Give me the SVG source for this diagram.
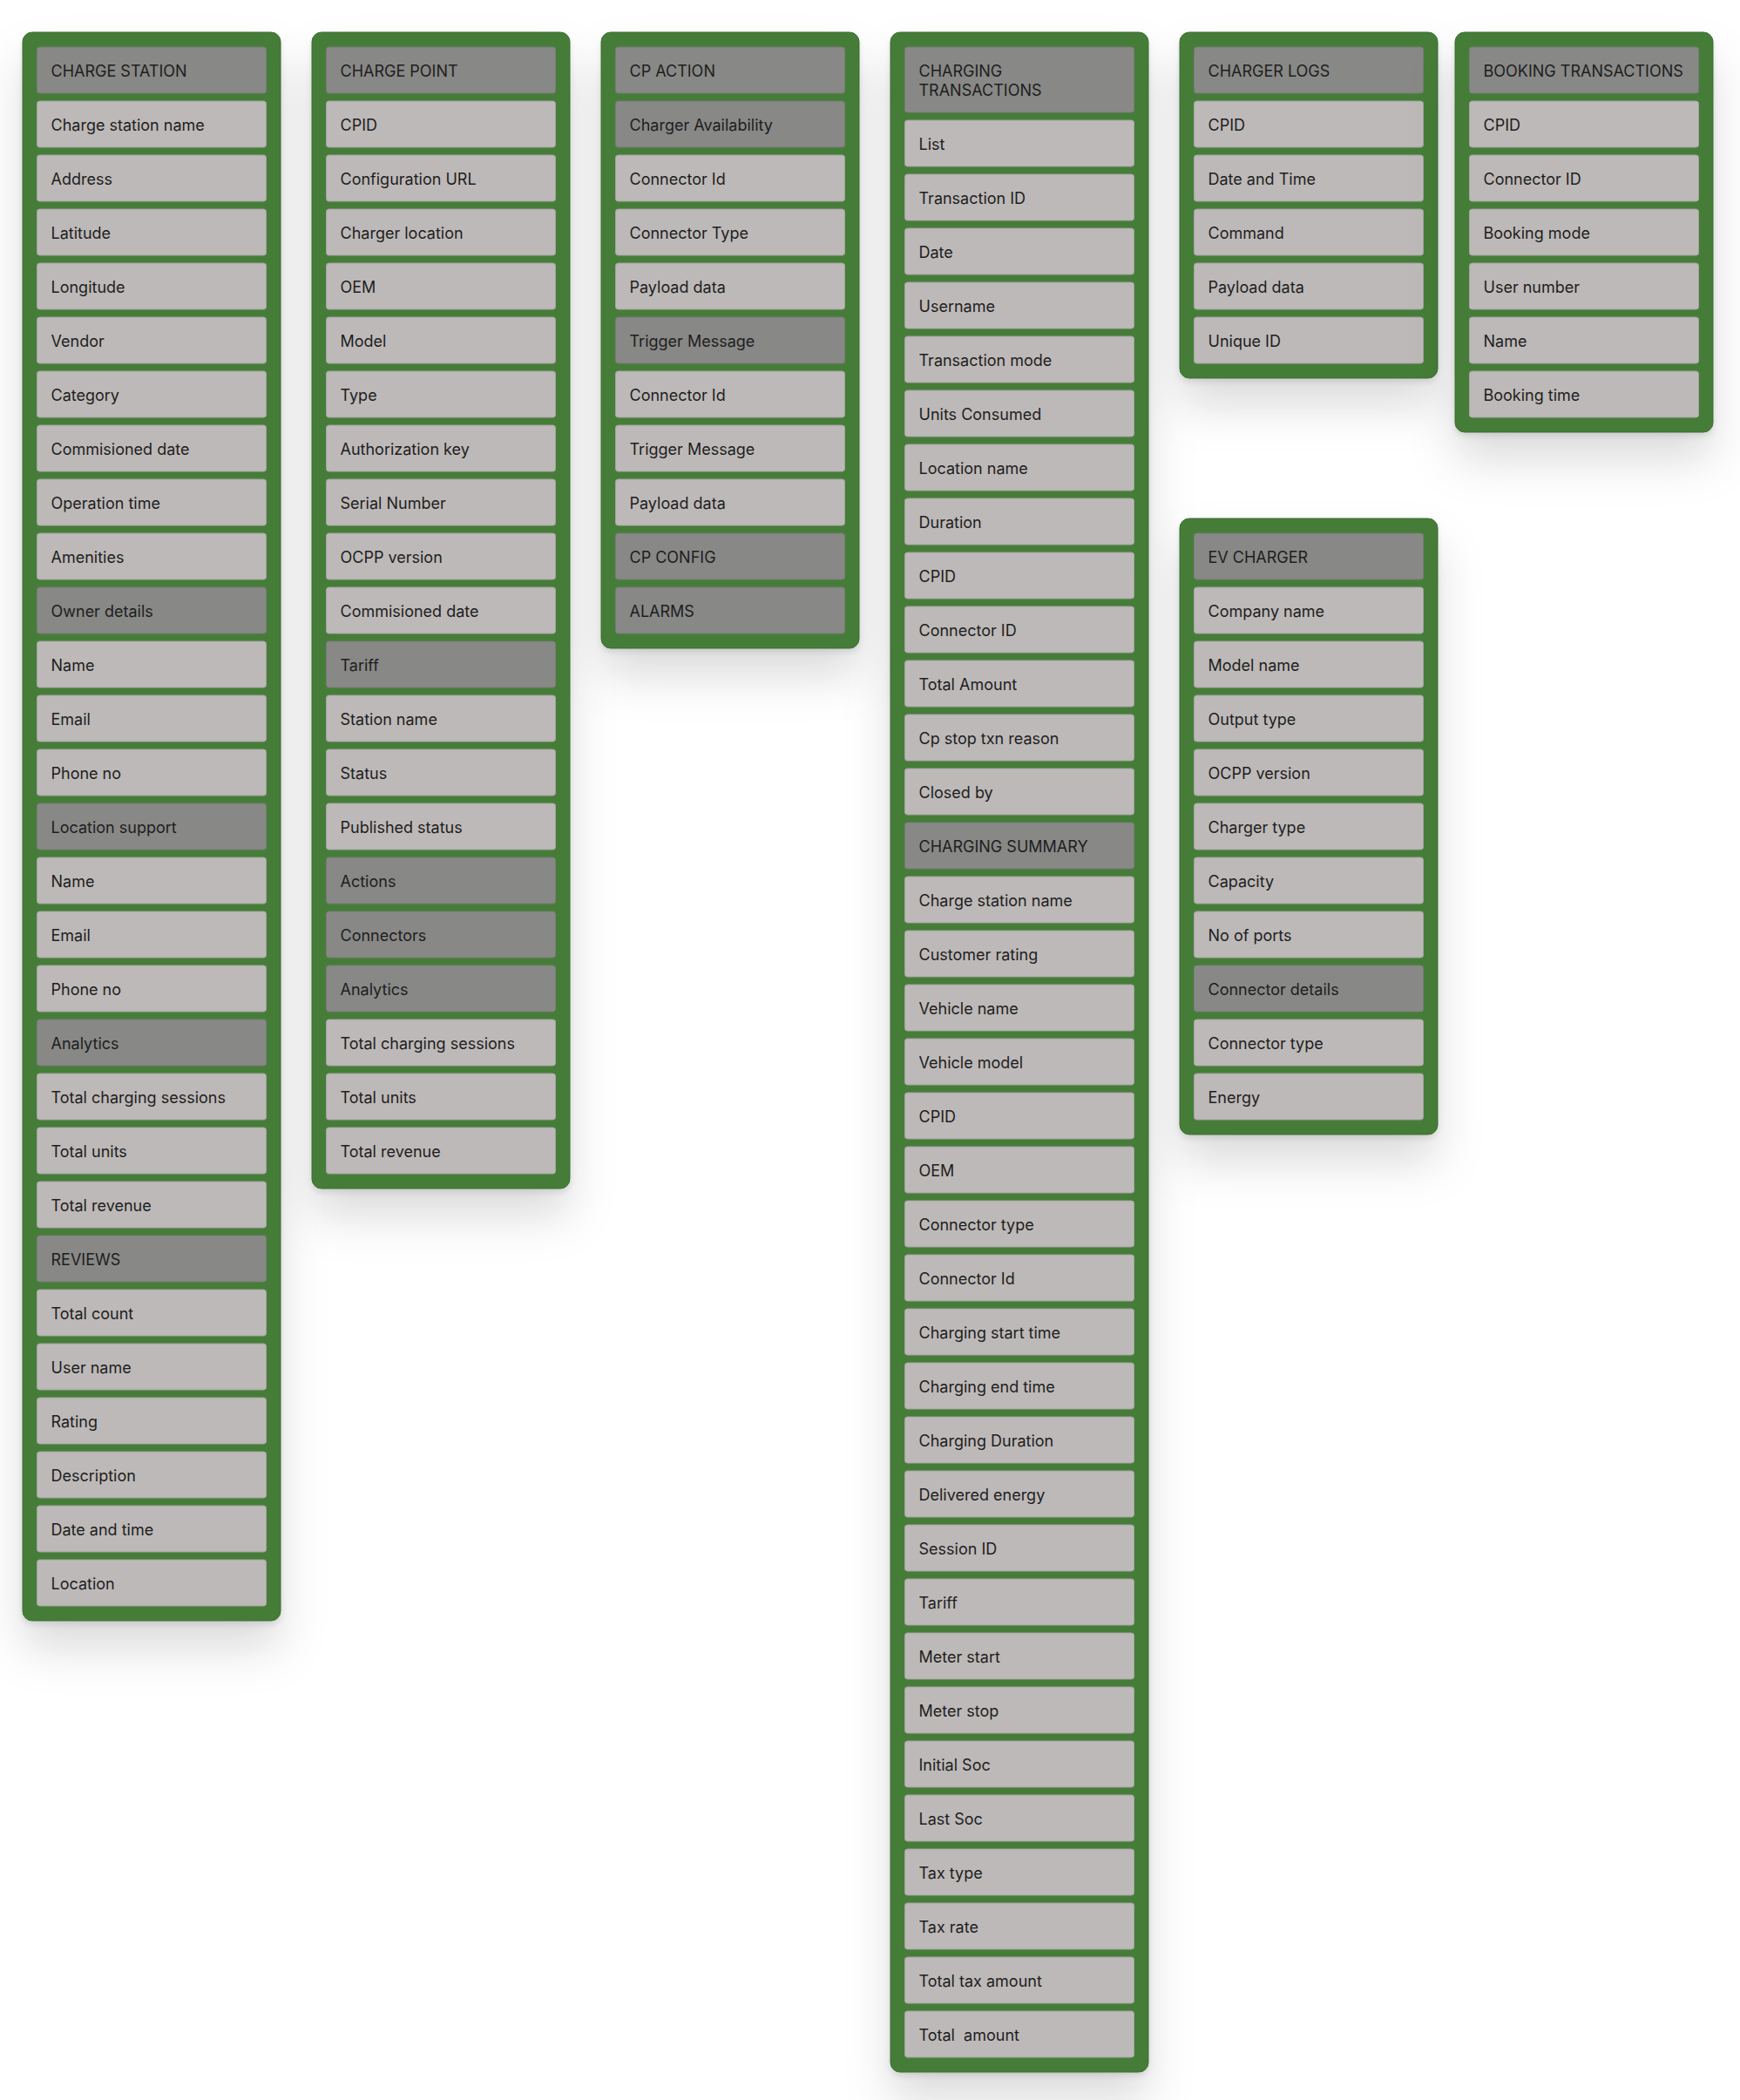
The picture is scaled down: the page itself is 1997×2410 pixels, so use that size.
<svg xmlns="http://www.w3.org/2000/svg" width="1997" height="2410" viewBox="0 0 1997 2410">
<defs>
<filter id="sh" x="-30%" y="-10%" width="160%" height="200%">
<feDropShadow dx="0" dy="32" stdDeviation="26" flood-color="#000" flood-opacity="0.13"/>
<feDropShadow dx="0" dy="4" stdDeviation="3" flood-color="#000" flood-opacity="0.10"/>
</filter>
<style>
.panel{fill:#457d38;stroke:#3d6f32;stroke-width:1;filter:url(#sh)}
.it{fill:#bdb9b8;stroke:#a5a2a1;stroke-width:1}
.hd{fill:#888886;stroke:#7a7a78;stroke-width:1}
text{font-family:Inter,"Noto Sans","Liberation Sans",sans-serif;font-size:18px;fill:#1e1e1e;white-space:pre}
</style>
</defs>
<rect width="1997" height="2410" fill="#ffffff"/>

<g id="charge-station">
<rect class="panel" x="26" y="37" width="296" height="1823" rx="11"/>
<rect class="hd" x="42.5" y="54" width="263" height="53" rx="3"/><text x="58.5" y="88">CHARGE STATION</text>
<rect class="it" x="42.5" y="116" width="263" height="53" rx="3"/><text x="58.5" y="150">Charge station name</text>
<rect class="it" x="42.5" y="178" width="263" height="53" rx="3"/><text x="58.5" y="212">Address</text>
<rect class="it" x="42.5" y="240" width="263" height="53" rx="3"/><text x="58.5" y="274">Latitude</text>
<rect class="it" x="42.5" y="302" width="263" height="53" rx="3"/><text x="58.5" y="336">Longitude</text>
<rect class="it" x="42.5" y="364" width="263" height="53" rx="3"/><text x="58.5" y="398">Vendor</text>
<rect class="it" x="42.5" y="426" width="263" height="53" rx="3"/><text x="58.5" y="460">Category</text>
<rect class="it" x="42.5" y="488" width="263" height="53" rx="3"/><text x="58.5" y="522">Commisioned date</text>
<rect class="it" x="42.5" y="550" width="263" height="53" rx="3"/><text x="58.5" y="584">Operation time</text>
<rect class="it" x="42.5" y="612" width="263" height="53" rx="3"/><text x="58.5" y="646">Amenities</text>
<rect class="hd" x="42.5" y="674" width="263" height="53" rx="3"/><text x="58.5" y="708">Owner details</text>
<rect class="it" x="42.5" y="736" width="263" height="53" rx="3"/><text x="58.5" y="770">Name</text>
<rect class="it" x="42.5" y="798" width="263" height="53" rx="3"/><text x="58.5" y="832">Email</text>
<rect class="it" x="42.5" y="860" width="263" height="53" rx="3"/><text x="58.5" y="894">Phone no</text>
<rect class="hd" x="42.5" y="922" width="263" height="53" rx="3"/><text x="58.5" y="956">Location support</text>
<rect class="it" x="42.5" y="984" width="263" height="53" rx="3"/><text x="58.5" y="1018">Name</text>
<rect class="it" x="42.5" y="1046" width="263" height="53" rx="3"/><text x="58.5" y="1080">Email</text>
<rect class="it" x="42.5" y="1108" width="263" height="53" rx="3"/><text x="58.5" y="1142">Phone no</text>
<rect class="hd" x="42.5" y="1170" width="263" height="53" rx="3"/><text x="58.5" y="1204">Analytics</text>
<rect class="it" x="42.5" y="1232" width="263" height="53" rx="3"/><text x="58.5" y="1266">Total charging sessions</text>
<rect class="it" x="42.5" y="1294" width="263" height="53" rx="3"/><text x="58.5" y="1328">Total units</text>
<rect class="it" x="42.5" y="1356" width="263" height="53" rx="3"/><text x="58.5" y="1390">Total revenue</text>
<rect class="hd" x="42.5" y="1418" width="263" height="53" rx="3"/><text x="58.5" y="1452">REVIEWS</text>
<rect class="it" x="42.5" y="1480" width="263" height="53" rx="3"/><text x="58.5" y="1514">Total count</text>
<rect class="it" x="42.5" y="1542" width="263" height="53" rx="3"/><text x="58.5" y="1576">User name</text>
<rect class="it" x="42.5" y="1604" width="263" height="53" rx="3"/><text x="58.5" y="1638">Rating</text>
<rect class="it" x="42.5" y="1666" width="263" height="53" rx="3"/><text x="58.5" y="1700">Description</text>
<rect class="it" x="42.5" y="1728" width="263" height="53" rx="3"/><text x="58.5" y="1762">Date and time</text>
<rect class="it" x="42.5" y="1790" width="263" height="53" rx="3"/><text x="58.5" y="1824">Location</text>
</g>

<g id="charge-point">
<rect class="panel" x="358" y="37" width="296" height="1327" rx="11"/>
<rect class="hd" x="374.5" y="54" width="263" height="53" rx="3"/><text x="390.5" y="88">CHARGE POINT</text>
<rect class="it" x="374.5" y="116" width="263" height="53" rx="3"/><text x="390.5" y="150">CPID</text>
<rect class="it" x="374.5" y="178" width="263" height="53" rx="3"/><text x="390.5" y="212">Configuration URL</text>
<rect class="it" x="374.5" y="240" width="263" height="53" rx="3"/><text x="390.5" y="274">Charger location</text>
<rect class="it" x="374.5" y="302" width="263" height="53" rx="3"/><text x="390.5" y="336">OEM</text>
<rect class="it" x="374.5" y="364" width="263" height="53" rx="3"/><text x="390.5" y="398">Model</text>
<rect class="it" x="374.5" y="426" width="263" height="53" rx="3"/><text x="390.5" y="460">Type</text>
<rect class="it" x="374.5" y="488" width="263" height="53" rx="3"/><text x="390.5" y="522">Authorization key</text>
<rect class="it" x="374.5" y="550" width="263" height="53" rx="3"/><text x="390.5" y="584">Serial Number</text>
<rect class="it" x="374.5" y="612" width="263" height="53" rx="3"/><text x="390.5" y="646">OCPP version</text>
<rect class="it" x="374.5" y="674" width="263" height="53" rx="3"/><text x="390.5" y="708">Commisioned date</text>
<rect class="hd" x="374.5" y="736" width="263" height="53" rx="3"/><text x="390.5" y="770">Tariff</text>
<rect class="it" x="374.5" y="798" width="263" height="53" rx="3"/><text x="390.5" y="832">Station name</text>
<rect class="it" x="374.5" y="860" width="263" height="53" rx="3"/><text x="390.5" y="894">Status</text>
<rect class="it" x="374.5" y="922" width="263" height="53" rx="3"/><text x="390.5" y="956">Published status</text>
<rect class="hd" x="374.5" y="984" width="263" height="53" rx="3"/><text x="390.5" y="1018">Actions</text>
<rect class="hd" x="374.5" y="1046" width="263" height="53" rx="3"/><text x="390.5" y="1080">Connectors</text>
<rect class="hd" x="374.5" y="1108" width="263" height="53" rx="3"/><text x="390.5" y="1142">Analytics</text>
<rect class="it" x="374.5" y="1170" width="263" height="53" rx="3"/><text x="390.5" y="1204">Total charging sessions</text>
<rect class="it" x="374.5" y="1232" width="263" height="53" rx="3"/><text x="390.5" y="1266">Total units</text>
<rect class="it" x="374.5" y="1294" width="263" height="53" rx="3"/><text x="390.5" y="1328">Total revenue</text>
</g>

<g id="cp-action">
<rect class="panel" x="690" y="37" width="296" height="707" rx="11"/>
<rect class="hd" x="706.5" y="54" width="263" height="53" rx="3"/><text x="722.5" y="88">CP ACTION</text>
<rect class="hd" x="706.5" y="116" width="263" height="53" rx="3"/><text x="722.5" y="150">Charger Availability</text>
<rect class="it" x="706.5" y="178" width="263" height="53" rx="3"/><text x="722.5" y="212">Connector Id</text>
<rect class="it" x="706.5" y="240" width="263" height="53" rx="3"/><text x="722.5" y="274">Connector Type</text>
<rect class="it" x="706.5" y="302" width="263" height="53" rx="3"/><text x="722.5" y="336">Payload data</text>
<rect class="hd" x="706.5" y="364" width="263" height="53" rx="3"/><text x="722.5" y="398">Trigger Message</text>
<rect class="it" x="706.5" y="426" width="263" height="53" rx="3"/><text x="722.5" y="460">Connector Id</text>
<rect class="it" x="706.5" y="488" width="263" height="53" rx="3"/><text x="722.5" y="522">Trigger Message</text>
<rect class="it" x="706.5" y="550" width="263" height="53" rx="3"/><text x="722.5" y="584">Payload data</text>
<rect class="hd" x="706.5" y="612" width="263" height="53" rx="3"/><text x="722.5" y="646">CP CONFIG</text>
<rect class="hd" x="706.5" y="674" width="263" height="53" rx="3"/><text x="722.5" y="708">ALARMS</text>
</g>

<g id="charging-transactions">
<rect class="panel" x="1022" y="37" width="296" height="2341" rx="11"/>
<rect class="hd" x="1038.5" y="54" width="263" height="75" rx="3"/><text x="1054.5" y="88">CHARGING</text><text x="1054.5" y="110">TRANSACTIONS</text>
<rect class="it" x="1038.5" y="138" width="263" height="53" rx="3"/><text x="1054.5" y="172">List</text>
<rect class="it" x="1038.5" y="200" width="263" height="53" rx="3"/><text x="1054.5" y="234">Transaction ID</text>
<rect class="it" x="1038.5" y="262" width="263" height="53" rx="3"/><text x="1054.5" y="296">Date</text>
<rect class="it" x="1038.5" y="324" width="263" height="53" rx="3"/><text x="1054.5" y="358">Username</text>
<rect class="it" x="1038.5" y="386" width="263" height="53" rx="3"/><text x="1054.5" y="420">Transaction mode</text>
<rect class="it" x="1038.5" y="448" width="263" height="53" rx="3"/><text x="1054.5" y="482">Units Consumed</text>
<rect class="it" x="1038.5" y="510" width="263" height="53" rx="3"/><text x="1054.5" y="544">Location name</text>
<rect class="it" x="1038.5" y="572" width="263" height="53" rx="3"/><text x="1054.5" y="606">Duration</text>
<rect class="it" x="1038.5" y="634" width="263" height="53" rx="3"/><text x="1054.5" y="668">CPID</text>
<rect class="it" x="1038.5" y="696" width="263" height="53" rx="3"/><text x="1054.5" y="730">Connector ID</text>
<rect class="it" x="1038.5" y="758" width="263" height="53" rx="3"/><text x="1054.5" y="792">Total Amount</text>
<rect class="it" x="1038.5" y="820" width="263" height="53" rx="3"/><text x="1054.5" y="854">Cp stop txn reason</text>
<rect class="it" x="1038.5" y="882" width="263" height="53" rx="3"/><text x="1054.5" y="916">Closed by</text>
<rect class="hd" x="1038.5" y="944" width="263" height="53" rx="3"/><text x="1054.5" y="978">CHARGING SUMMARY</text>
<rect class="it" x="1038.5" y="1006" width="263" height="53" rx="3"/><text x="1054.5" y="1040">Charge station name</text>
<rect class="it" x="1038.5" y="1068" width="263" height="53" rx="3"/><text x="1054.5" y="1102">Customer rating</text>
<rect class="it" x="1038.5" y="1130" width="263" height="53" rx="3"/><text x="1054.5" y="1164">Vehicle name</text>
<rect class="it" x="1038.5" y="1192" width="263" height="53" rx="3"/><text x="1054.5" y="1226">Vehicle model</text>
<rect class="it" x="1038.5" y="1254" width="263" height="53" rx="3"/><text x="1054.5" y="1288">CPID</text>
<rect class="it" x="1038.5" y="1316" width="263" height="53" rx="3"/><text x="1054.5" y="1350">OEM</text>
<rect class="it" x="1038.5" y="1378" width="263" height="53" rx="3"/><text x="1054.5" y="1412">Connector type</text>
<rect class="it" x="1038.5" y="1440" width="263" height="53" rx="3"/><text x="1054.5" y="1474">Connector Id</text>
<rect class="it" x="1038.5" y="1502" width="263" height="53" rx="3"/><text x="1054.5" y="1536">Charging start time</text>
<rect class="it" x="1038.5" y="1564" width="263" height="53" rx="3"/><text x="1054.5" y="1598">Charging end time</text>
<rect class="it" x="1038.5" y="1626" width="263" height="53" rx="3"/><text x="1054.5" y="1660">Charging Duration</text>
<rect class="it" x="1038.5" y="1688" width="263" height="53" rx="3"/><text x="1054.5" y="1722">Delivered energy</text>
<rect class="it" x="1038.5" y="1750" width="263" height="53" rx="3"/><text x="1054.5" y="1784">Session ID</text>
<rect class="it" x="1038.5" y="1812" width="263" height="53" rx="3"/><text x="1054.5" y="1846">Tariff</text>
<rect class="it" x="1038.5" y="1874" width="263" height="53" rx="3"/><text x="1054.5" y="1908">Meter start</text>
<rect class="it" x="1038.5" y="1936" width="263" height="53" rx="3"/><text x="1054.5" y="1970">Meter stop</text>
<rect class="it" x="1038.5" y="1998" width="263" height="53" rx="3"/><text x="1054.5" y="2032">Initial Soc</text>
<rect class="it" x="1038.5" y="2060" width="263" height="53" rx="3"/><text x="1054.5" y="2094">Last Soc</text>
<rect class="it" x="1038.5" y="2122" width="263" height="53" rx="3"/><text x="1054.5" y="2156">Tax type</text>
<rect class="it" x="1038.5" y="2184" width="263" height="53" rx="3"/><text x="1054.5" y="2218">Tax rate</text>
<rect class="it" x="1038.5" y="2246" width="263" height="53" rx="3"/><text x="1054.5" y="2280">Total tax amount</text>
<rect class="it" x="1038.5" y="2308" width="263" height="53" rx="3"/><text x="1054.5" y="2342">Total  amount</text>
</g>

<g id="charger-logs">
<rect class="panel" x="1354" y="37" width="296" height="397" rx="11"/>
<rect class="hd" x="1370.5" y="54" width="263" height="53" rx="3"/><text x="1386.5" y="88">CHARGER LOGS</text>
<rect class="it" x="1370.5" y="116" width="263" height="53" rx="3"/><text x="1386.5" y="150">CPID</text>
<rect class="it" x="1370.5" y="178" width="263" height="53" rx="3"/><text x="1386.5" y="212">Date and Time</text>
<rect class="it" x="1370.5" y="240" width="263" height="53" rx="3"/><text x="1386.5" y="274">Command</text>
<rect class="it" x="1370.5" y="302" width="263" height="53" rx="3"/><text x="1386.5" y="336">Payload data</text>
<rect class="it" x="1370.5" y="364" width="263" height="53" rx="3"/><text x="1386.5" y="398">Unique ID</text>
</g>

<g id="booking-transactions">
<rect class="panel" x="1670" y="37" width="296" height="459" rx="11"/>
<rect class="hd" x="1686.5" y="54" width="263" height="53" rx="3"/><text x="1702.5" y="88">BOOKING TRANSACTIONS</text>
<rect class="it" x="1686.5" y="116" width="263" height="53" rx="3"/><text x="1702.5" y="150">CPID</text>
<rect class="it" x="1686.5" y="178" width="263" height="53" rx="3"/><text x="1702.5" y="212">Connector ID</text>
<rect class="it" x="1686.5" y="240" width="263" height="53" rx="3"/><text x="1702.5" y="274">Booking mode</text>
<rect class="it" x="1686.5" y="302" width="263" height="53" rx="3"/><text x="1702.5" y="336">User number</text>
<rect class="it" x="1686.5" y="364" width="263" height="53" rx="3"/><text x="1702.5" y="398">Name</text>
<rect class="it" x="1686.5" y="426" width="263" height="53" rx="3"/><text x="1702.5" y="460">Booking time</text>
</g>

<g id="ev-charger">
<rect class="panel" x="1354" y="595" width="296" height="707" rx="11"/>
<rect class="hd" x="1370.5" y="612" width="263" height="53" rx="3"/><text x="1386.5" y="646">EV CHARGER</text>
<rect class="it" x="1370.5" y="674" width="263" height="53" rx="3"/><text x="1386.5" y="708">Company name</text>
<rect class="it" x="1370.5" y="736" width="263" height="53" rx="3"/><text x="1386.5" y="770">Model name</text>
<rect class="it" x="1370.5" y="798" width="263" height="53" rx="3"/><text x="1386.5" y="832">Output type</text>
<rect class="it" x="1370.5" y="860" width="263" height="53" rx="3"/><text x="1386.5" y="894">OCPP version</text>
<rect class="it" x="1370.5" y="922" width="263" height="53" rx="3"/><text x="1386.5" y="956">Charger type</text>
<rect class="it" x="1370.5" y="984" width="263" height="53" rx="3"/><text x="1386.5" y="1018">Capacity</text>
<rect class="it" x="1370.5" y="1046" width="263" height="53" rx="3"/><text x="1386.5" y="1080">No of ports</text>
<rect class="hd" x="1370.5" y="1108" width="263" height="53" rx="3"/><text x="1386.5" y="1142">Connector details</text>
<rect class="it" x="1370.5" y="1170" width="263" height="53" rx="3"/><text x="1386.5" y="1204">Connector type</text>
<rect class="it" x="1370.5" y="1232" width="263" height="53" rx="3"/><text x="1386.5" y="1266">Energy</text>
</g>

<g id="connectors"></g>
</svg>
